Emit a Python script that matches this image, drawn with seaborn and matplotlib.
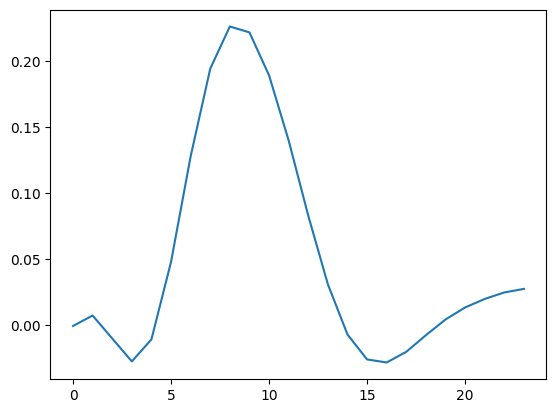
import matplotlib
matplotlib.use("Agg")
import matplotlib.pyplot as plt
import seaborn as sns
import numpy as np

x_values = list(range(24))
y_values = [-0.0006, 0.0073, -0.0101, -0.0275, -0.0108, 0.0480, 0.1280, 0.1945,
            0.2265, 0.2220, 0.1894, 0.1400, 0.0830, 0.0310, -0.0071, -0.0260,
            -0.0283, -0.0202, -0.0076, 0.0043, 0.0134, 0.0199, 0.0248, 0.0275]

fig, ax = plt.subplots(figsize=(6.4, 4.8), dpi=100)
sns.lineplot(x=x_values, y=y_values, ax=ax, color="#1f77b4")
fig.savefig("out.png", bbox_inches="tight")
